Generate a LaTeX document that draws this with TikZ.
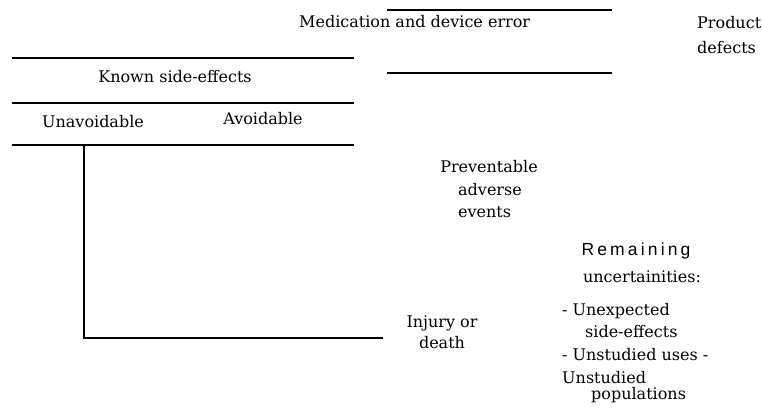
\documentclass[tikz,border=0pt]{standalone}
\usepackage{fontspec}
\setmainfont{DejaVu Serif}
\newfontfamily\remfont[LetterSpace=18]{Liberation Sans}
\begin{document}
\begin{tikzpicture}[x=1pt,y=-1pt,
  rule/.style={line width=1.8pt,line cap=butt},
  lbl/.style={inner sep=0pt,font=\fontsize{16}{19}\selectfont},
  lblw/.style={lbl,anchor=base west},
  lblc/.style={lbl,anchor=base}]
\useasboundingbox (0,0) rectangle (762,408);
% rules
\coordinate (r1a) at (387,10); \coordinate (r1b) at (612,10);
\coordinate (r2a) at (387,73); \coordinate (r2b) at (612,73);
\coordinate (l1a) at (12,58);  \coordinate (l1b) at (354,58);
\coordinate (l2a) at (12,103); \coordinate (l2b) at (354,103);
\coordinate (l3a) at (12,145); \coordinate (l3b) at (354,145);
\coordinate (vtop) at (84,145); \coordinate (vbot) at (84,338);
\coordinate (hend) at (383,338);
\draw[rule] (r1a) -- (r1b);
\draw[rule] (r2a) -- (r2b);
\draw[rule] (l1a) -- (l1b);
\draw[rule] (l2a) -- (l2b);
\draw[rule] (l3a) -- (l3b);
\draw[rule,line join=miter] (vtop) -- (vbot) -- (hend);
% labels
\node[lblw] (med) at (299,27) {Medication and device error};
\node[lblw] (prod1) at (697,28) {Product};
\node[lblw] (prod2) at (697,53) {defects};
\node[lblc] (known) at (175,82) {Known side-effects};
\node[lblc] (unav) at (93,127) {Unavoidable};
\node[lblc] (av) at (263,124) {Avoidable};
\node[lblc] (prev1) at (489,172) {Preventable};
\node[lblw] (prev2) at (458,195) {adverse};
\node[lblw] (prev3) at (458,217) {events};
\node[lbl,anchor=base,font=\remfont\fontsize{17.5}{20}\selectfont] (rem1) at (636,255) {Remaining};
\node[lblc] (rem2) at (642,282) {uncertainities:};
\node[lblw] (u1) at (562,315) {- Unexpected};
\node[lblw] (u2) at (585,337) {side-effects};
\node[lblw] (u3) at (562,360) {- Unstudied uses -};
\node[lblw] (u4) at (562,383) {Unstudied};
\node[lblw] (u5) at (591,399) {populations};
\node[lblc] (inj1) at (442,327) {Injury or};
\node[lblc] (inj2) at (442,348) {death};
\end{tikzpicture}
\end{document}
